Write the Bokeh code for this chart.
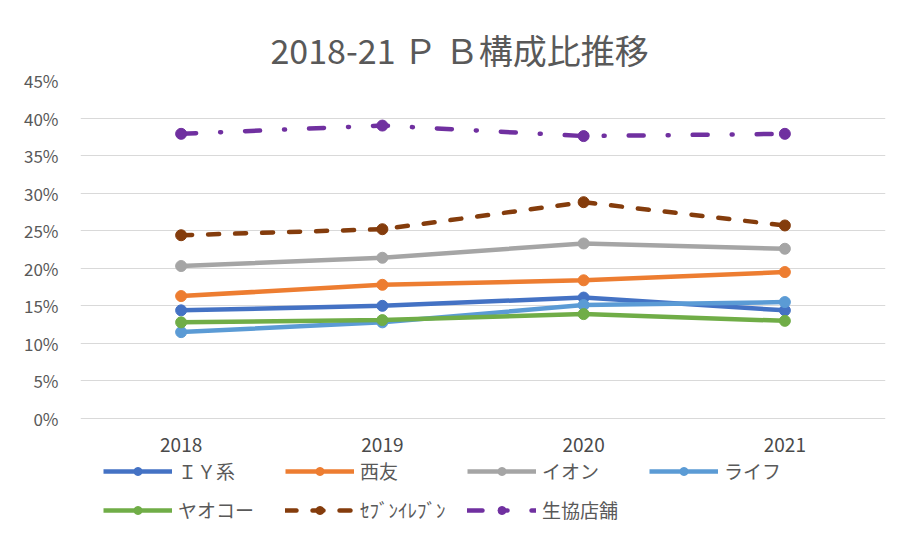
from bokeh.plotting import figure
from bokeh.models import Range1d, NumeralTickFormatter, Legend, LegendItem, FixedTicker
from bokeh.core.properties import value
from bokeh.embed import file_html
from bokeh.resources import INLINE

# ---- data ----
years = ["2018", "2019", "2020", "2021"]
iy = [0.144, 0.150, 0.161, 0.144]
seiyu = [0.163, 0.178, 0.184, 0.195]
aeon = [0.203, 0.214, 0.233, 0.226]
life = [0.115, 0.128, 0.151, 0.155]
yaoko = [0.128, 0.131, 0.139, 0.130]
seven = [0.244, 0.252, 0.288, 0.257]
coop = [0.379, 0.390, 0.376, 0.379]
series_names = ["ＩＹ系", "西友", "イオン", "ライフ", "ヤオコー", "ｾﾌﾞﾝｲﾚﾌﾞﾝ", "生協店舗"]
y_ticks = [0.0, 0.05, 0.10, 0.15, 0.20, 0.25, 0.30, 0.35, 0.40, 0.45]
title_text = "2018-21 Ｐ Ｂ構成比推移"

series_values = [iy, seiyu, aeon, life, yaoko, seven, coop]
colors = ["#4472C4", "#ED7D31", "#A5A5A5", "#5B9BD5", "#70AD47", "#843C0C", "#7030A0"]
dashes = ["solid", "solid", "solid", "solid", "solid", "11 16", "15 24 1 24"]

FONT = "Noto Sans CJK JP"
GRAY = "#595959"

# layout helpers (pixels): plot area spans 0..45% over 338 px; the frame is
# extended downward to hold the category labels and the legend
px_per_unit = 338 / 0.45
y_bottom = -112 / px_per_unit
label_y = -26 / px_per_unit

p = figure(width=900, height=535, x_range=years, y_range=Range1d(y_bottom, 0.45),
           output_backend="svg", toolbar_location=None,
           min_border_left=80, min_border_right=15, min_border_top=80, min_border_bottom=5,
           title=title_text)
p.outline_line_color = None
p.background_fill_color = "white"
p.border_fill_color = "white"

p.title.text_font = FONT
p.title.text_font_size = "34px"
p.title.text_font_style = "normal"
p.title.text_color = GRAY
p.title.align = "left"
p.title.offset = 190
p.title.standoff = 14

p.xaxis.visible = False
p.xgrid.grid_line_color = None
p.ygrid.grid_line_color = "#d9d9d9"
p.ygrid.grid_line_width = 1

p.yaxis.ticker = FixedTicker(ticks=y_ticks)
p.yaxis.formatter = NumeralTickFormatter(format="0%")
p.yaxis.axis_line_color = None
p.yaxis.major_tick_line_color = None
p.yaxis.minor_tick_line_color = None
p.yaxis.major_label_text_font = FONT
p.yaxis.major_label_text_color = GRAY
p.yaxis.major_label_text_font_size = "17px"
p.yaxis.major_label_standoff = 16

# category labels under the plot area
p.text(x=years, y=[label_y] * len(years), text=years, text_align="center",
       text_baseline="middle", text_font=value(FONT), text_font_size="19px",
       text_font_style="normal", text_color="#4a4a4a")

items = []
for name, vals, col, dash in zip(series_names, series_values, colors, dashes):
    cap = "round" if dash != "solid" else "butt"
    r1 = p.line(years, vals, line_color=col, line_width=4.5, line_dash=dash, line_cap=cap)
    r2 = p.scatter(years, vals, size=11, fill_color=col, line_color=col)
    items.append(LegendItem(label=name, renderers=[r1, r2]))


def make_legend(its, yoff):
    return Legend(items=its, orientation="horizontal", location=(23, yoff),
                  glyph_width=69, glyph_height=20, label_height=20, label_standoff=6,
                  label_width=88, spacing=19, padding=0, margin=0,
                  border_line_color=None, background_fill_alpha=0,
                  label_text_font=FONT, label_text_font_size="19px", label_text_color=GRAY)


p.add_layout(make_legend(items[:4], 46))
p.add_layout(make_legend(items[4:], 7))

open("out.html", "w").write(file_html(p, INLINE))
